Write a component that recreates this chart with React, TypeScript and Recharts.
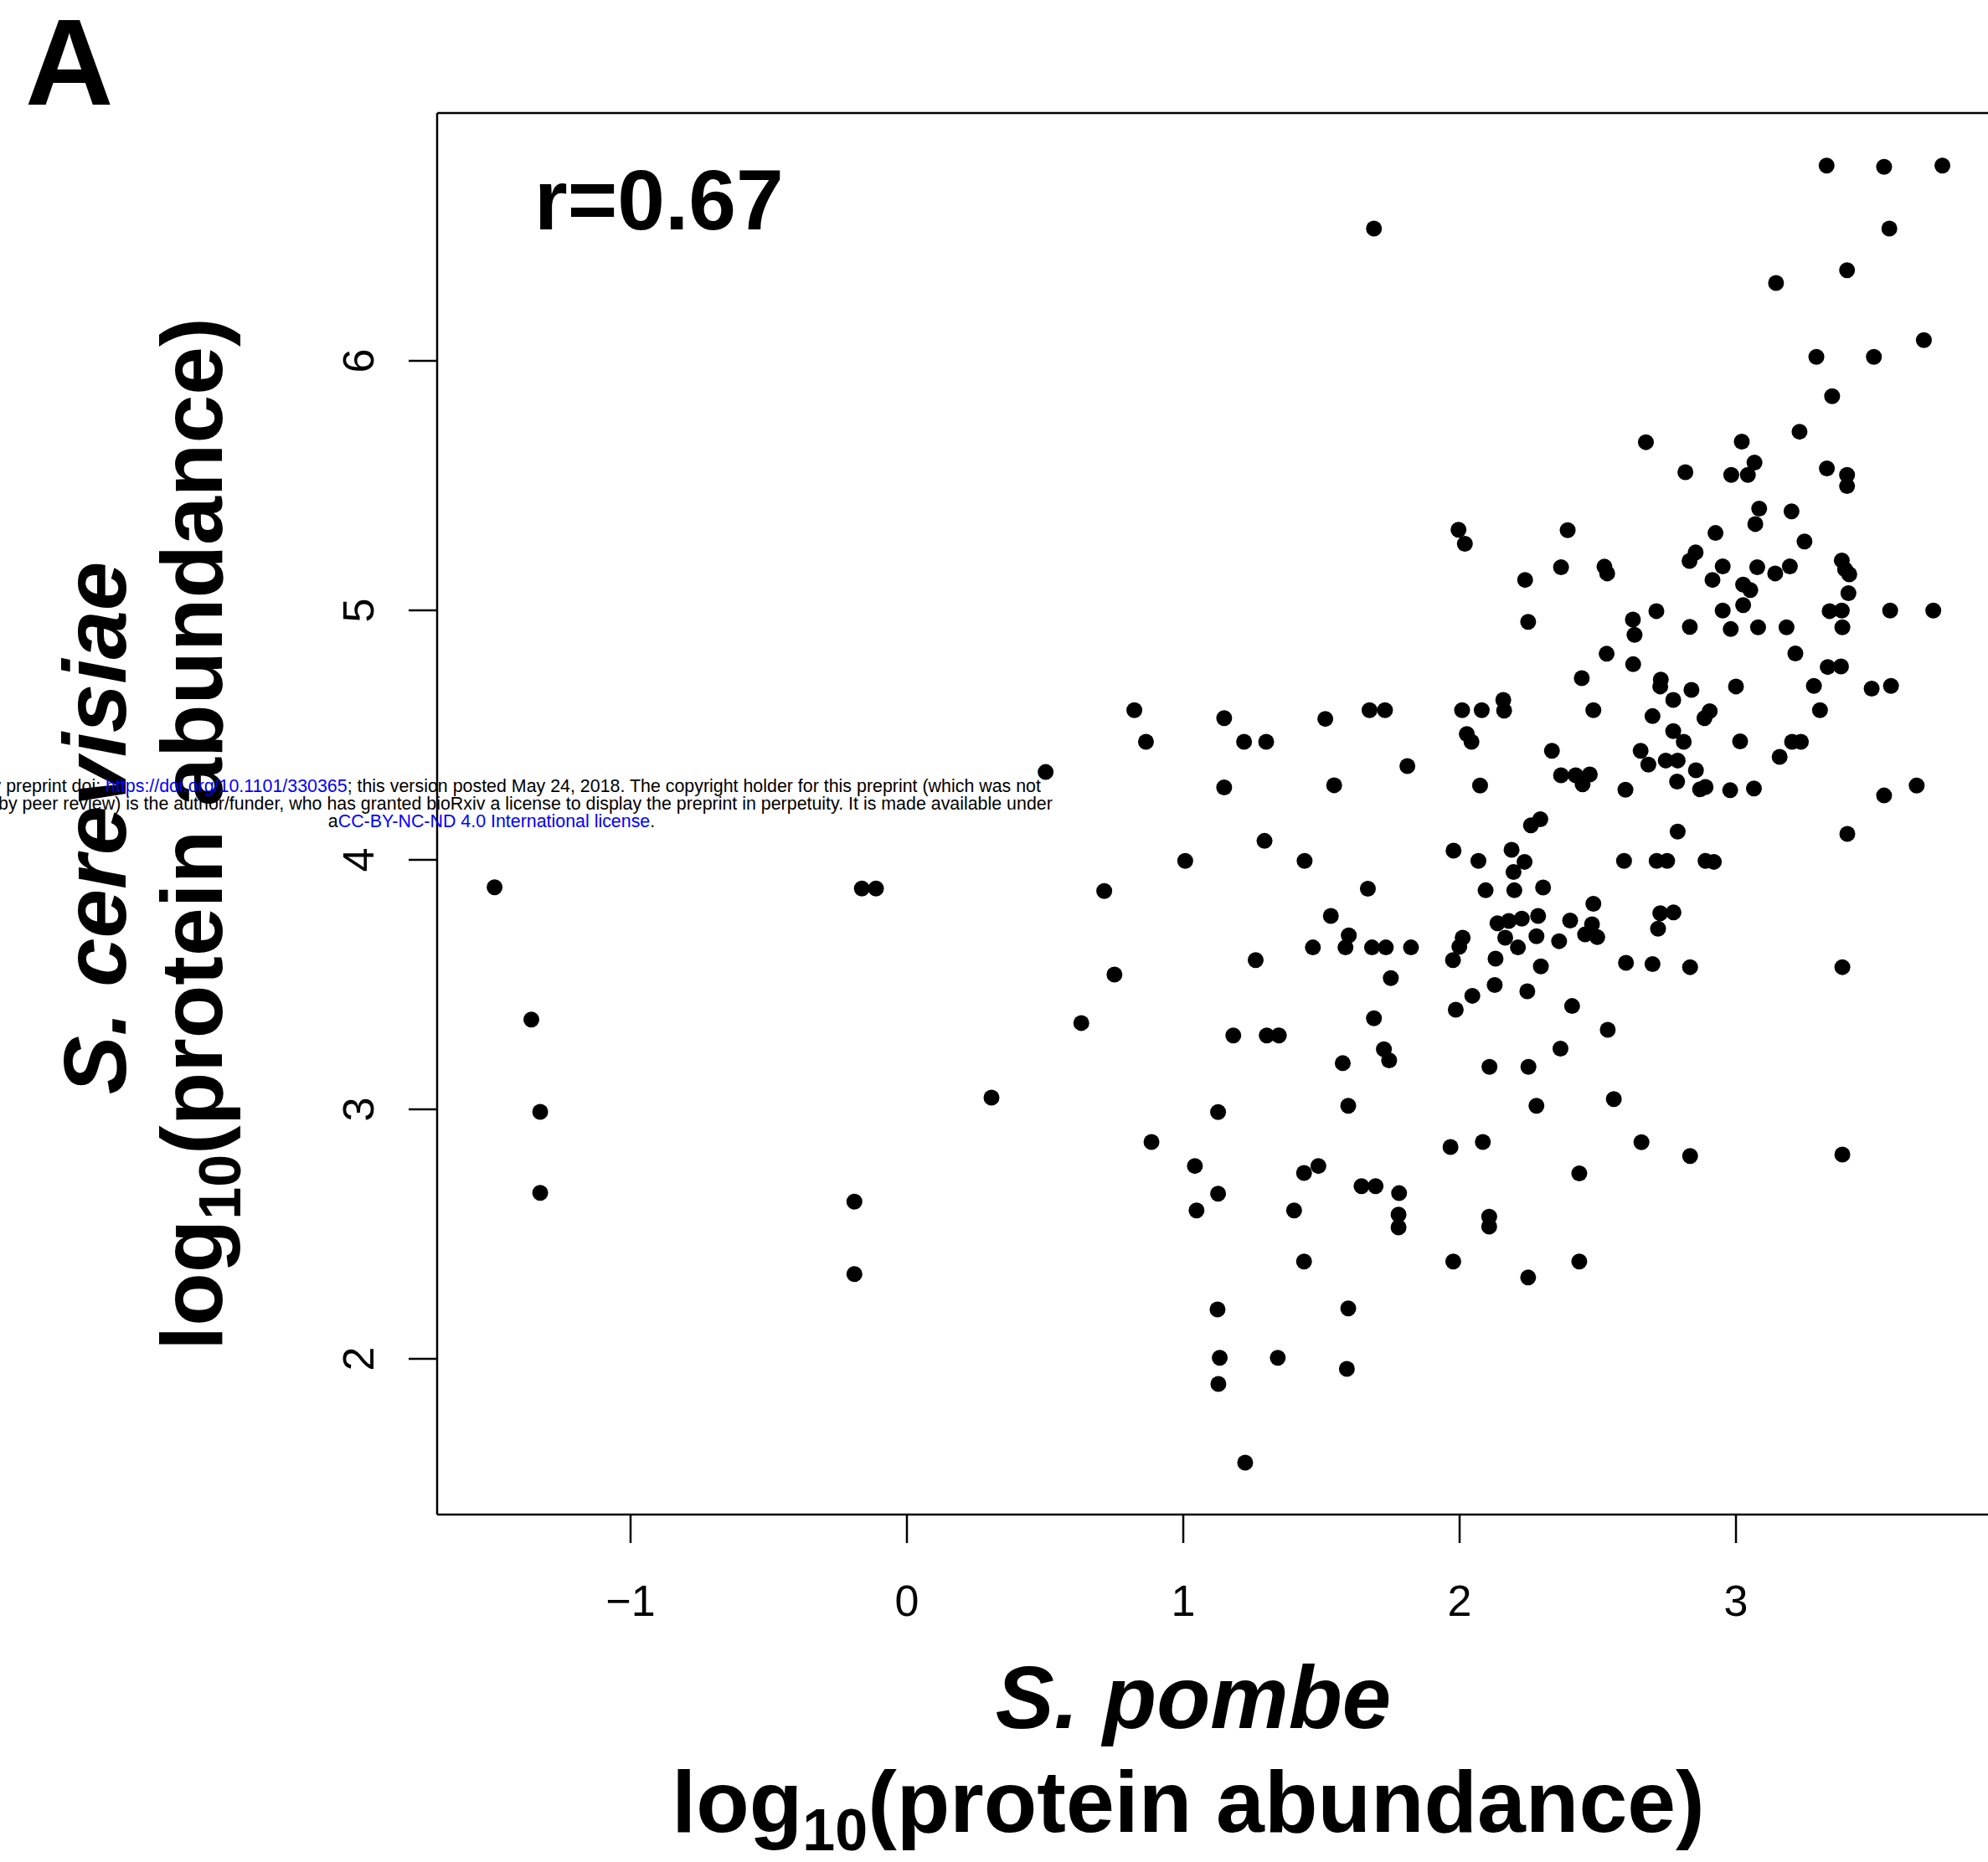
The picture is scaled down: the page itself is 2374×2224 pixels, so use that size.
import React from 'react';
import { ScatterChart, Scatter, XAxis, YAxis, ReferenceLine } from 'recharts';

// S. pombe log10(protein abundance)  (x)
const pombeLog10: number[] = [
  -1.492, -1.359, -1.327, -1.327, -0.19, -0.19, -0.163, -0.112, 0.306, 0.502, 0.631, 0.714, 0.751,
  0.823, 0.865, 1.148, 1.22, 1.3, 1.148, 1.514, 1.674, 1.73, 1.811, 1.546, 1.294, 1.007, 1.439, 1.668,
  1.534, 1.599, 1.587, 1.469, 1.683, 1.733, 1.824, 1.262, 1.751, 1.69,
  1.181, 1.302, 1.346, 1.577, 1.726, 1.745, 1.126, 1.597, 0.885, 1.967, 2.084, 1.042, 1.437, 1.489,
  1.645, 1.696, 1.781, 1.126, 1.048, 1.401, 1.779, 1.779, 2.107, 2.107, 1.437, 1.977, 1.124, 1.597,
  1.132, 1.342, 1.592, 1.127, 1.224,
  2.249, 2.278, 2.558, 2.658, 2.834, 2.433, 2.433, 2.248, 2.365, 2.108, 2.536, 3.385,
  2.074, 2.367, 2.42, 2.471, 2.445, 2.6, 2.787, 2.87, 2.89, 2.979, 2.292, 2.258, 2.789, 1.978, 2.068,
  2.188, 2.235, 2.195, 2.595, 2.713, 2.751, 2.89, 2.92, 2.094, 2.198, 2.302, 2.484, 2.137, 2.178,
  2.225, 2.284, 2.4, 2.479, 2.454, 2.498, 2.726, 2.774, 2.718, 2.011, 1.999, 1.976, 2.165, 2.211,
  2.278, 2.36, 2.13, 2.294, 2.602, 2.698, 2.834, 2.127, 2.046, 2.245, 1.986, 2.407,
  1.996, 2.019, 2.391, 2.817, 2.983, 2.367, 2.524, 2.534, 2.237, 2.248, 2.926, 2.854, 2.832, 2.952,
  2.915, 2.712, 2.627, 2.633, 2.833, 2.952, 2.981, 2.532, 2.628, 2.442, 2.728, 2.726, 2.839, 2.773,
  3.0, 2.009, 2.08, 2.158, 2.161, 2.484, 2.698, 2.905, 2.886, 2.026, 2.043, 2.773, 2.811, 3.015,
  2.334, 2.655, 2.683, 2.746, 2.789, 2.855,
  3.348, 3.23, 3.021, 3.067, 3.043, 3.329, 3.402, 3.402, 3.084, 3.07, 3.201, 3.248, 3.077, 3.142,
  3.195, 3.383, 3.395, 3.41, 3.026, 3.052, 3.407, 3.026, 3.339, 3.383, 3.558, 3.714, 3.08, 3.183,
  3.385, 3.215, 3.332, 3.38, 3.282, 3.491, 3.561, 3.304,
  3.203, 3.235, 3.158, 3.065, 3.536, 3.654, 3.403, 3.385,
  3.328, 3.536, 3.747, 1.69, 3.555, 3.402, 3.145, 3.68, 3.291, 3.499, 2.674,
];

// S. cerevisiae log10(protein abundance)  (y)
const cerevisiaeLog10: number[] = [
  3.89, 3.36, 2.99, 2.665, 2.63, 2.34, 3.885, 3.885, 3.047, 4.352, 3.346, 3.875, 3.54,
  4.6, 4.473, 4.568, 4.473, 4.473, 4.29, 4.565, 4.6, 4.6, 4.376, 4.299, 4.076, 3.996, 3.996, 3.884,
  3.775, 3.697, 3.649, 3.649, 3.649, 3.649, 3.649, 3.598, 3.526, 3.365,
  3.296, 3.296, 3.296, 3.185, 3.241, 3.196, 2.989, 3.014, 2.869, 2.849, 2.869, 2.773, 2.745, 2.773,
  2.692, 2.692, 2.664, 2.662, 2.595, 2.595, 2.578, 2.527, 2.57, 2.53, 2.39, 2.39, 2.198, 2.202,
  2.004, 2.004, 1.96, 1.899, 1.584,
  3.17, 3.014, 3.041, 2.868, 2.813, 2.743, 2.39, 2.326, 3.243, 3.17, 3.319, 2.819,
  4.298, 4.339, 4.339, 4.342, 4.303, 4.281, 4.314, 4.283, 4.292, 4.279, 4.163, 4.138, 4.113, 4.037, 3.996,
  4.04, 3.992, 3.951, 3.996, 3.996, 3.996, 3.996, 3.992, 3.878, 3.878, 3.889, 3.824, 3.746, 3.755,
  3.764, 3.775, 3.757, 3.742, 3.701, 3.69, 3.786, 3.789, 3.724, 3.688, 3.652, 3.598, 3.688, 3.649,
  3.694, 3.674, 3.604, 3.573, 3.587, 3.582, 3.57, 3.498, 3.455, 3.473, 3.399, 3.414,
  5.323, 5.267, 5.321, 5.554, 5.543, 5.173, 5.175, 5.148, 5.122, 4.954, 5.31, 5.232, 5.198, 5.176,
  5.122, 4.997, 4.963, 4.902, 4.934, 4.999, 4.925, 4.826, 4.784, 4.728, 4.722, 4.695, 4.681, 4.641,
  4.695, 4.6, 4.6, 4.641, 4.598, 4.6, 4.576, 4.596, 4.568, 4.504, 4.473, 4.516, 4.473, 4.475,
  4.437, 4.437, 4.382, 4.398, 4.398, 4.359,
  5.858, 5.716, 5.676, 5.592, 5.543, 5.569, 5.543, 5.498, 5.408, 5.346, 5.397, 5.276, 5.173, 5.148,
  5.176, 5.2, 5.164, 5.144, 5.103, 5.081, 5.069, 5.021, 4.997, 4.999, 4.999, 4.999, 4.932, 4.932,
  4.932, 4.827, 4.773, 4.775, 4.697, 4.686, 4.697, 4.6,
  4.473, 4.473, 4.413, 4.286, 4.258, 4.298, 4.104, 3.57,
  6.783, 6.778, 6.783, 6.53, 6.53, 6.363, 6.312, 6.083, 6.016, 6.016, 5.674,
];

const xTicks = [-1, 0, 1, 2, 3];
const yTicks = [2, 3, 4, 5, 6];
const xDomain: [number, number] = [-1.7, 3.912];
const yDomain: [number, number] = [1.3758, 6.9933];

const panelLabel = 'A';
const correlationLabel = 'r=0.67';
const xSpecies = 'S. pombe';
const ySpecies = 'S. cerevisiae';
const titleMain = 'log';
const titleSub = '10';
const titleRest = '(protein abundance)';

const data = pombeLog10.map((x, i) => ({ x, y: cerevisiaeLog10[i] }));

const FONT = '"Liberation Sans", Arial, Helvetica, sans-serif';

const fmt = (v: number) => (v < 0 ? '\u2212' + Math.abs(v) : String(v));

const XTick = (props: any) => {
  const { x, y, payload } = props;
  return (
    <text x={x} y={y + 87} textAnchor="middle" fontSize={52} fontFamily={FONT} fill="#000">
      {fmt(payload.value)}
    </text>
  );
};

const YTick = (props: any) => {
  const { x, y, payload } = props;
  const bx = x - 42;
  return (
    <text
      x={bx}
      y={y}
      transform={`rotate(-90 ${bx} ${y})`}
      textAnchor="middle"
      fontSize={52}
      fontFamily={FONT}
      fill="#000"
    >
      {fmt(payload.value)}
    </text>
  );
};

const Dot = (props: any) => <circle cx={props.cx} cy={props.cy} r={9.5} fill="#000" />;

const Title = ({ x, y, rotate }: { x: number; y: number; rotate?: boolean }) => (
  <text
    transform={rotate ? `translate(${x} ${y}) rotate(-90)` : `translate(${x} ${y})`}
    x={0}
    y={0}
    textAnchor="middle"
    fontSize={104}
    fontWeight="bold"
    fontFamily={FONT}
    fill="#000"
  >
    {titleMain}
    <tspan fontSize={70} dy={22}>
      {titleSub}
    </tspan>
    <tspan dy={-22}>{titleRest}</tspan>
  </text>
);

export default function App() {
  return (
    <div
      style={{
        position: 'absolute',
        left: 0,
        top: 0,
        width: 2374,
        height: 2224,
        overflow: 'hidden',
        background: '#fff',
      }}
    >
      <ScatterChart width={2374} height={2224} margin={{ top: 135, right: 0, bottom: 315, left: 422 }}>
        <XAxis
          type="number"
          dataKey="x"
          domain={xDomain}
          ticks={xTicks}
          allowDataOverflow
          interval={0}
          height={100}
          tickSize={34}
          tickMargin={0}
          axisLine={{ stroke: '#000', strokeWidth: 2.5 }}
          tickLine={{ stroke: '#000', strokeWidth: 2.5 }}
          tick={XTick}
        />
        <YAxis
          type="number"
          dataKey="y"
          domain={yDomain}
          ticks={yTicks}
          allowDataOverflow
          interval={0}
          width={100}
          tickSize={34}
          tickMargin={0}
          axisLine={{ stroke: '#000', strokeWidth: 2.5 }}
          tickLine={{ stroke: '#000', strokeWidth: 2.5 }}
          tick={YTick}
        />
        <ReferenceLine y={yDomain[1]} stroke="#000" strokeWidth={2.5} ifOverflow="visible" />
        <Scatter data={data} isAnimationActive={false} shape={Dot} />
      </ScatterChart>
      <svg
        width={2374}
        height={2224}
        style={{ position: 'absolute', left: 0, top: 0, pointerEvents: 'none' }}
      >
        <text x={30} y={125} fontSize={146} fontWeight="bold" fontFamily={FONT} fill="#000">
          {panelLabel}
        </text>
        <text x={638} y={274} fontSize={102} fontWeight="bold" fontFamily={FONT} fill="#000">
          {correlationLabel}
        </text>
        <text
          x={1425}
          y={2064}
          textAnchor="middle"
          fontSize={105}
          fontWeight="bold"
          fontStyle="italic"
          fontFamily={FONT}
          fill="#000"
        >
          {xSpecies}
        </text>
        <Title x={1419} y={2188} />
        <text
          transform="translate(150 989) rotate(-90)"
          textAnchor="middle"
          fontSize={105}
          fontWeight="bold"
          fontStyle="italic"
          fontFamily={FONT}
          fill="#000"
        >
          {ySpecies}
        </text>
        <Title x={265} y={996} rotate />
        <g fontSize={21.4} fontFamily={FONT} fill="#000">
          <text x={587} y={946} textAnchor="middle">
            bioRxiv preprint doi: <tspan fill="#0000ff">https://doi.org/10.1101/330365</tspan>; this
            version posted May 24, 2018. The copyright holder for this preprint (which was not
          </text>
          <text x={587} y={967} textAnchor="middle">
            certified by peer review) is the author/funder, who has granted bioRxiv a license to display
            the preprint in perpetuity. It is made available under
          </text>
          <text x={587} y={988} textAnchor="middle">
            a<tspan fill="#0000ff">CC-BY-NC-ND 4.0 International license</tspan>.
          </text>
        </g>
      </svg>
    </div>
  );
}
